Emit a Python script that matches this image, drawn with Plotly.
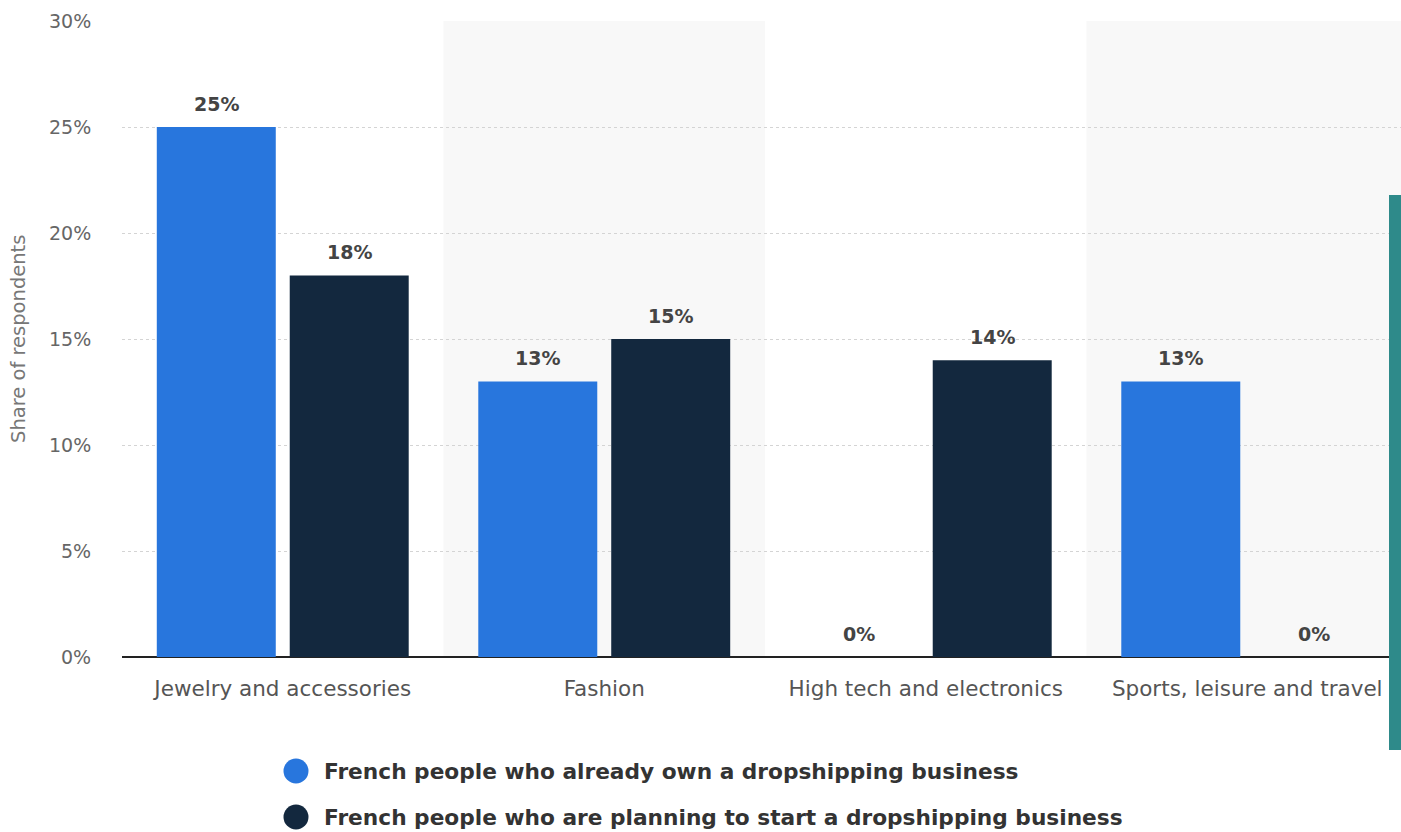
import plotly.graph_objects as go

categories = ["Jewelry and accessories", "Fashion", "High tech and electronics", "Sports, leisure and travel"]
series_names = ["French people who already own a dropshipping business",
                "French people who are planning to start a dropshipping business"]
owners = [25, 13, 0, 13]
planners = [18, 15, 14, 0]
y_ticks = [0, 5, 10, 15, 20, 25, 30]
y_ticklabels = ["0%", "5%", "10%", "15%", "20%", "25%", "30%"]

colors = ["#2876dd", "#13283e"]
FONT = "DejaVu Sans"

W, H = 1401, 832
L, R, T, B = 122, 0, 21, 175
plot_w = W - L - R
plot_h = H - T - B

def px_x(px):
    return (px - L) / plot_w

def px_y(py):
    return (H - B - py) / plot_h

fig = go.Figure()
for name, vals, col in zip(series_names, [owners, planners], colors):
    fig.add_trace(go.Bar(x=categories, y=vals, name=name, marker_color=col,
                         marker_line_width=0, showlegend=False, hoverinfo="skip"))

shapes = []
# alternating band shading
for i in range(len(categories)):
    if i % 2 == 1:
        shapes.append(dict(type="rect", xref="x", yref="y", x0=i - 0.5, x1=i + 0.5,
                           y0=0, y1=30, fillcolor="#f8f8f8", line_width=0, layer="below"))

annotations = []
# bar value labels
for vals, shift in zip([owners, planners], [-66.5, 66.5]):
    for c, v in zip(categories, vals):
        annotations.append(dict(x=c, y=v, xref="x", yref="y", text=f"{v}%", showarrow=False,
                                xshift=shift, yshift=10, yanchor="bottom",
                                font=dict(family=FONT, size=19, color="#444", weight="bold")))

# legend (manual)
leg_y = [771, 817]
for name, col, ly in zip(series_names, colors, leg_y):
    shapes.append(dict(type="circle", xref="paper", yref="paper",
                       xsizemode="pixel", ysizemode="pixel",
                       xanchor=px_x(296), yanchor=px_y(ly),
                       x0=-12.5, x1=12.5, y0=-12.5, y1=12.5,
                       fillcolor=col, line_width=0))
    annotations.append(dict(x=px_x(322), y=px_y(ly), xref="paper", yref="paper",
                            text=name, showarrow=False, xanchor="left", yanchor="middle",
                            font=dict(family=FONT, size=21.7, color="#333", weight="bold")))

# y axis title
annotations.append(dict(x=px_x(18), y=0.5, xref="paper", yref="paper", text="Share of respondents",
                        textangle=-90, showarrow=False, xanchor="center", yanchor="middle",
                        font=dict(family=FONT, size=19.5, color="#777")))

# teal side bar
shapes.append(dict(type="rect", xref="paper", yref="paper", x0=px_x(1389), x1=px_x(1401),
                   y0=px_y(750), y1=px_y(195), fillcolor="#2e8a8a", line_width=0, layer="above"))

fig.update_layout(
    width=W, height=H,
    margin=dict(l=L, r=R, t=T, b=B, pad=0),
    paper_bgcolor="white", plot_bgcolor="white",
    barmode="group", bargap=0.173, bargroupgap=0.105,
    font=dict(family=FONT),
    shapes=shapes, annotations=annotations,
    xaxis=dict(range=[-0.5, -0.5 + plot_w / 321.5], showgrid=False, showline=False,
               ticks="outside", ticklen=12, tickcolor="rgba(0,0,0,0)",
               tickfont=dict(family=FONT, size=21.5, color="#555"), fixedrange=True),
    yaxis=dict(range=[0, 30], tickvals=y_ticks, ticktext=y_ticklabels,
               showgrid=True, gridcolor="#d4d4d4", griddash="dot", gridwidth=1,
               zeroline=True, zerolinecolor="#222", zerolinewidth=2,
               ticks="outside", ticklen=26, tickcolor="rgba(0,0,0,0)",
               tickfont=dict(family=FONT, size=19, color="#666"), fixedrange=True),
)

fig.write_html("out.html", config={"displayModeBar": False},
               post_script="document.body.style.margin='0';")
